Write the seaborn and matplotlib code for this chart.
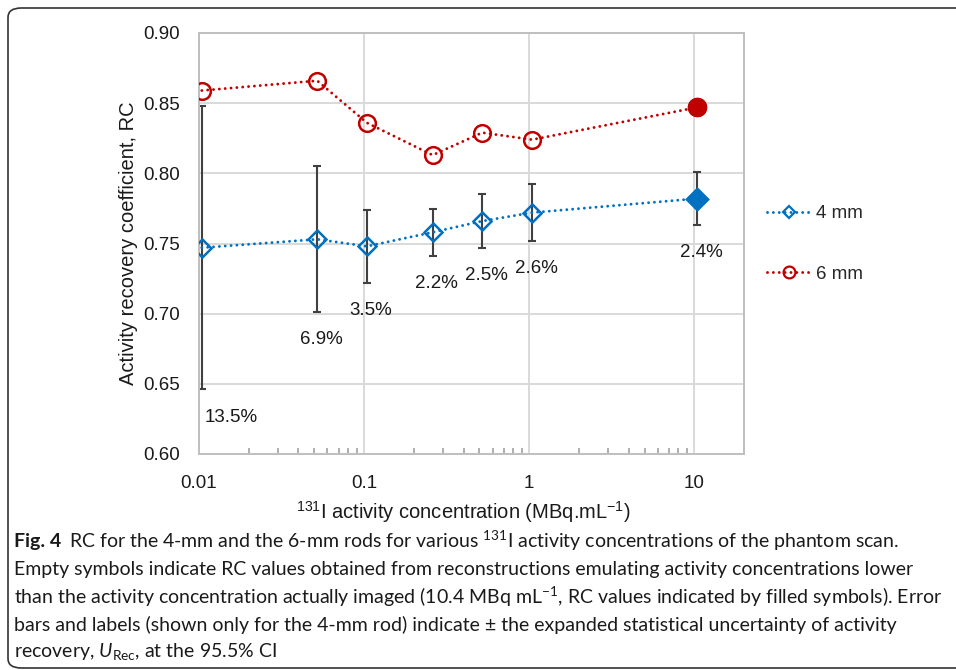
import numpy as np
import pandas as pd
import matplotlib
matplotlib.use("Agg")
import matplotlib.pyplot as plt
import seaborn as sns
from matplotlib import font_manager
from matplotlib.patches import FancyBboxPatch
from matplotlib.ticker import LogLocator, FixedLocator, NullFormatter, FixedFormatter
from matplotlib.lines import Line2D

# ---------------- data ----------------
conc = [0.0104, 0.052, 0.104, 0.26, 0.52, 1.04, 10.4]
rc_4mm = [0.747, 0.753, 0.748, 0.758, 0.766, 0.772, 0.782]
rc_6mm = [0.859, 0.866, 0.836, 0.813, 0.829, 0.824, 0.847]
u_rec_pct = [13.5, 6.9, 3.5, 2.2, 2.5, 2.6, 2.4]
x_ticks = [0.01, 0.1, 1, 10]
x_tick_labels = ["0.01", "0.1", "1", "10"]
y_ticks = [0.60, 0.65, 0.70, 0.75, 0.80, 0.85, 0.90]
series_names = ["4 mm", "6 mm"]

BLUE = "#0070C0"
RED = "#C00000"
GRID = "#D9D9D9"
ERR = "#404040"
TXT = "#1a1a1a"

installed = {f.name for f in font_manager.fontManager.ttflist}
chart_font = "Liberation Sans" if "Liberation Sans" in installed else "DejaVu Sans"
cap_name = next((n for n in ["Lato", "Roboto", "Open Sans", "Noto Sans"] if n in installed), "DejaVu Sans")

sns.set_theme(style="white")
plt.rcParams["font.family"] = [chart_font, "DejaVu Sans"]
plt.rcParams["mathtext.fontset"] = "custom"
plt.rcParams["mathtext.rm"] = cap_name
plt.rcParams["mathtext.it"] = cap_name + ":italic"

df = pd.DataFrame({
    "conc": conc * 2,
    "rc": rc_4mm + rc_6mm,
    "rod": [series_names[0]] * len(conc) + [series_names[1]] * len(conc),
})

fig = plt.figure(figsize=(9.56, 6.70), dpi=100)
ax = fig.add_axes([199 / 956, 1 - 454 / 670, 545 / 956, 421 / 670])

dots = (0, (0.01, 2.0))
LW = 2.1
# error bars (4 mm only)
err = [v * p / 100 for v, p in zip(rc_4mm, u_rec_pct)]
ax.errorbar(conc, rc_4mm, yerr=err, fmt="none", ecolor=ERR, elinewidth=1.5,
            capsize=3, capthick=1.5, zorder=2)

d4 = df[df["rod"] == series_names[0]]
d6 = df[df["rod"] == series_names[1]]
sns.lineplot(data=d4, x="conc", y="rc", ax=ax, color=BLUE, lw=LW, linestyle=dots,
             dash_capstyle="round", marker="D", markersize=9.5, markerfacecolor="none",
             markeredgecolor=BLUE, markeredgewidth=1.8, estimator=None, zorder=3)
sns.lineplot(data=d6, x="conc", y="rc", ax=ax, color=RED, lw=LW, linestyle=dots,
             dash_capstyle="round", marker="o", markersize=12, markerfacecolor="none",
             markeredgecolor=RED, markeredgewidth=1.8, estimator=None, zorder=3)
# filled symbols for the activity concentration actually imaged
sns.scatterplot(x=[conc[-1]], y=[rc_4mm[-1]], ax=ax, marker="D", s=160, color=BLUE,
                edgecolor=BLUE, linewidth=0, zorder=4)
sns.scatterplot(x=[conc[-1]], y=[rc_6mm[-1]], ax=ax, marker="o", s=200, color=RED,
                edgecolor=RED, linewidth=0, zorder=4)

# percentage labels below the error bars
for i, (c, v, e, p) in enumerate(zip(conc, rc_4mm, err, u_rec_pct)):
    first = i == 0
    ax.annotate(f"{p}%", xy=(c, v - e), xytext=(2 if first else 3, -20),
                textcoords="offset points", ha="left" if first else "center",
                va="center", fontsize=13.5, color=TXT)

ax.set_xscale("log")
ax.set_xlim(0.01, 20)
ax.set_ylim(0.60, 0.90)
ax.xaxis.set_major_locator(FixedLocator(x_ticks))
ax.xaxis.set_major_formatter(FixedFormatter(x_tick_labels))
ax.xaxis.set_minor_locator(LogLocator(base=10, subs=np.arange(2, 10)))
ax.xaxis.set_minor_formatter(NullFormatter())
ax.set_yticks(y_ticks)
ax.set_yticklabels([f"{t:.2f}" for t in y_ticks])
ax.tick_params(axis="x", which="major", length=0, pad=15, labelsize=13.5, labelcolor=TXT)
ax.tick_params(axis="x", which="minor", direction="in", length=4.5, width=1.1, color="#999999",
               bottom=True)
ax.tick_params(axis="y", length=0, pad=14, labelsize=13.5, labelcolor=TXT)
ax.grid(True, which="major", color=GRID, lw=1.4)
for s in ax.spines.values():
    s.set_color("#BFBFBF")
    s.set_linewidth(1.4)

ax.set_xlabel(r"$\mathregular{^{131}}$I activity concentration (MBq.mL$\mathregular{^{-1}}$)",
              fontsize=14.5, color=TXT)
ax.xaxis.set_label_coords((463 - 199) / 545, -(512 - 454) / 421)
ax.xaxis.label.set_va("center")
ax.set_ylabel("Activity recovery coefficient, RC", fontsize=14.5, color=TXT)
ax.yaxis.set_label_coords(-(199 - 128) / 545, 0.5)
ax.yaxis.label.set_va("center")

handles = [
    Line2D([], [], color=BLUE, lw=LW, linestyle=dots, dash_capstyle="round", marker="D",
           markersize=6.5, markerfacecolor="none", markeredgecolor=BLUE, markeredgewidth=1.6),
    Line2D([], [], color=RED, lw=LW, linestyle=dots, dash_capstyle="round", marker="o",
           markersize=8.5, markerfacecolor="none", markeredgecolor=RED, markeredgewidth=1.6),
]
ax.legend(handles, series_names, loc="center left", bbox_to_anchor=(758 / 956, 1 - 244 / 670),
          bbox_transform=fig.transFigure, frameon=False, fontsize=13.5, handlelength=2.3,
          handletextpad=0.3, labelspacing=2.3, borderpad=0)

# rounded frame around figure + caption (runs off the right edge)
frame = FancyBboxPatch((8 / 956, 2 / 670), 1.2, 660 / 670,
                       boxstyle="round,pad=0,rounding_size=0.014", transform=fig.transFigure,
                       fill=False, edgecolor="#333333", lw=1.2, clip_on=False)
fig.patches.append(frame)

# ---------------- caption ----------------
cap_font = [cap_name, "DejaVu Sans"]
x0_px = 14
y_lines = [541, 569, 597, 625, 652]
line1_rest = r"RC for the 4-mm and the 6-mm rods for various $^{131}$I activity concentrations of the phantom scan."
lines = [
    "Empty symbols indicate RC values obtained from reconstructions emulating activity concentrations lower",
    r"than the activity concentration actually imaged (10.4 MBq mL$^{-1}$, RC values indicated by filled symbols). Error",
    "bars and labels (shown only for the 4-mm rod) indicate \u00b1 the expanded statistical uncertainty of activity",
    r"recovery, $\mathit{U}_{\mathrm{Rec}}$, at the 95.5% CI",
]
fig.canvas.draw()
r = fig.canvas.get_renderer()
# choose the caption size so the widest line fits as in the reference
probe_size = 14.0
tp = fig.text(0, 0, lines[1], fontsize=probe_size, family=cap_font)
w = tp.get_window_extent(r).width
tp.remove()
cap_size = min(probe_size * (944 - x0_px) / w, 14.5)

t = fig.text(x0_px / 956, 1 - y_lines[0] / 670, "Fig. 4", fontsize=cap_size, fontweight="bold",
             family=cap_font, va="center", ha="left", color=TXT)
bb = t.get_window_extent(r)
fig.text((bb.x1 + 8) / 956, 1 - y_lines[0] / 670, line1_rest,
         fontsize=cap_size, family=cap_font, va="center", ha="left", color=TXT)
for yl, txt in zip(y_lines[1:], lines):
    fig.text(x0_px / 956, 1 - yl / 670, txt, fontsize=cap_size, family=cap_font, va="center",
             ha="left", color=TXT)

fig.savefig("out.png", dpi=100)
